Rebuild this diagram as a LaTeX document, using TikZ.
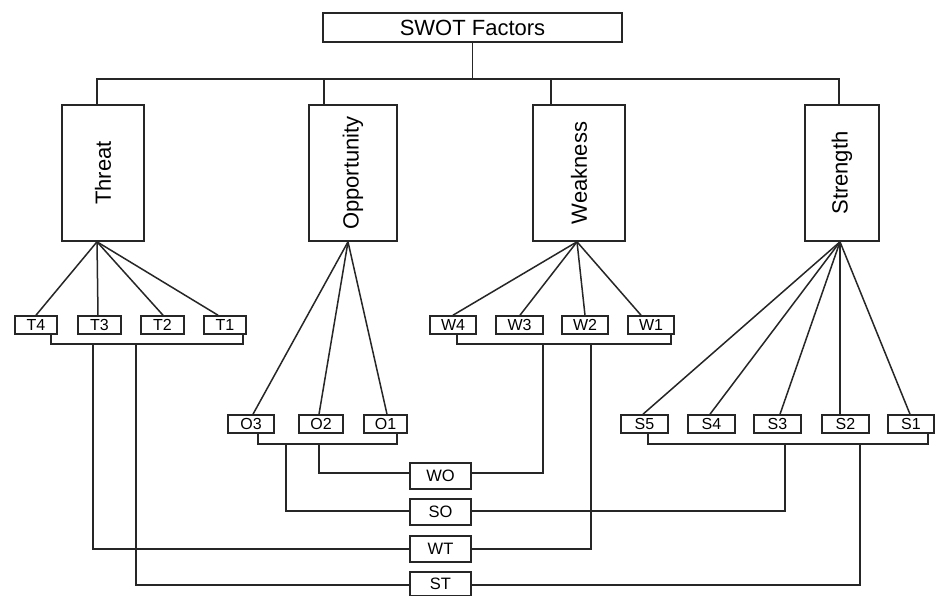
\documentclass[tikz,border=0pt]{standalone}
\usepackage{fontspec}
\setmainfont{Liberation Sans}
\begin{document}
\begin{tikzpicture}[x=1pt,y=-1pt,
  box/.style={draw=black!85, line width=1.6pt, inner sep=0pt, anchor=center},
  big/.style={box, font=\fontsize{22}{26}\selectfont},
  cat/.style={big, minimum height=136pt},
  leaf/.style={box, font=\fontsize{16}{19}\selectfont, minimum height=18pt},
  combo/.style={box, font=\fontsize{16.5}{19}\selectfont, minimum width=61pt, minimum height=26pt},
  link/.style={line width=1.5pt, draw=black!85}]
\clip (0,0) rectangle (938,595);
\fill[white] (0,0) rectangle (938,595);

% top
\node[big, minimum width=299pt, minimum height=29pt] (swot) at (472.5,27.5) {SWOT Factors};
\node[cat, minimum width=82pt] (threat) at (103,173) {\rotatebox{90}{Threat}};
\node[cat, minimum width=88pt] (opp) at (353,173) {\rotatebox{90}{Opportunity}};
\node[cat, minimum width=92pt] (weak) at (579,173) {\rotatebox{90}{Weakness}};
\node[cat, minimum width=74pt] (str) at (842,173) {\rotatebox{90}{Strength}};

\coordinate (bus) at (472.5,79);
\draw[link] (swot.south) -- (bus);
\draw[link] ([xshift=-6pt]threat.north) |- (bus);
\draw[link] ([xshift=-3pt]str.north) |- (bus);
\draw[link, line width=2pt] ([xshift=-29pt]opp.north) |- (bus);
\draw[link, line width=2pt] ([xshift=-28pt]weak.north) |- (bus);

% leaves
\node[leaf, minimum width=42pt] (T4) at (36,325) {T4};
\node[leaf, minimum width=43pt] (T3) at (99.5,325) {T3};
\node[leaf, minimum width=43pt] (T2) at (162.5,325) {T2};
\node[leaf, minimum width=42pt] (T1) at (225,325) {T1};

\node[leaf, minimum width=46pt] (O3) at (251,424) {O3};
\node[leaf, minimum width=44pt] (O2) at (321,424) {O2};
\node[leaf, minimum width=43pt] (O1) at (385.5,424) {O1};

\node[leaf, minimum width=46pt] (W4) at (453,325) {W4};
\node[leaf, minimum width=47pt] (W3) at (519.5,325) {W3};
\node[leaf, minimum width=46pt] (W2) at (585,325) {W2};
\node[leaf, minimum width=46pt] (W1) at (651,325) {W1};

\node[leaf, minimum width=47pt] (S5) at (644.5,424) {S5};
\node[leaf, minimum width=47pt] (S4) at (711.5,424) {S4};
\node[leaf, minimum width=47pt] (S3) at (777.5,424) {S3};
\node[leaf, minimum width=47pt] (S2) at (845.5,424) {S2};
\node[leaf, minimum width=46pt] (S1) at (911,424) {S1};

% combos
\node[combo] (WO) at (440.5,476) {WO};
\node[combo] (SO) at (440.5,512) {SO};
\node[combo] (WT) at (440.5,549) {WT};
\node[combo, minimum height=24pt] (ST) at (440.5,584) {ST};

% fans
\coordinate (ta) at ([xshift=-6pt]threat.south);
\coordinate (oa) at ([xshift=-5pt]opp.south);
\coordinate (wa) at ([xshift=-2pt]weak.south);
\coordinate (sa) at ([xshift=-2pt]str.south);
\foreach \n/\s in {T4/0,T3/-1.5,T2/0.5,T1/-7}
  \draw[link] (ta) -- ([xshift=\s pt]\n.north);
\foreach \n/\s in {O3/2,O2/-2,O1/1.5}
  \draw[link] (oa) -- ([xshift=\s pt]\n.north);
\foreach \n/\s in {W4/0,W3/0.5,W2/0,W1/-10}
  \draw[link] (wa) -- ([xshift=\s pt]\n.north);
\foreach \n/\s in {S5/-1.5,S4/-1.5,S3/2.5,S2/-5.5,S1/-1}
  \draw[link] (sa) -- ([xshift=\s pt]\n.north);

% brackets
\coordinate (tL) at (51,344);  \coordinate (tR) at (243,344);
\coordinate (oL) at (258,444); \coordinate (oR) at (397,444);
\coordinate (wL) at (457,344); \coordinate (wR) at (671,344);
\coordinate (sL) at (648,444); \coordinate (sR) at (928,444);
\draw[link] (T4.south -| tL) -- (tL) -- (tR) -- (T1.south -| tR);
\draw[link] (O3.south -| oL) -- (oL) -- (oR) -- (O1.south -| oR);
\draw[link] (W4.south -| wL) -- (wL) -- (wR) -- (W1.south -| wR);
\draw[link] (S5.south -| sL) -- (sL) -- (sR) -- (S1.south -| sR);

% drops to combos
\coordinate (tWT) at (93,344);  \coordinate (tST) at (136,344);
\coordinate (oSO) at (286,444); \coordinate (oWO) at (319,444);
\coordinate (wWO) at (543,344); \coordinate (wWT) at (591,344);
\coordinate (sSO) at (785,444); \coordinate (sST) at (860,444);
\draw[link] (tWT) |- (WT.west);
\draw[link] (tST) |- ([yshift=-1pt]ST.west);
\draw[link] (oSO) |- ([yshift=1pt]SO.west);
\draw[link] (oWO) |- ([yshift=3pt]WO.west);
\draw[link] (wWO) |- ([yshift=3pt]WO.east);
\draw[link] (wWT) |- (WT.east);
\draw[link] (sSO) |- ([yshift=1pt]SO.east);
\draw[link] (sST) |- ([yshift=-1pt]ST.east);
\end{tikzpicture}
\end{document}
